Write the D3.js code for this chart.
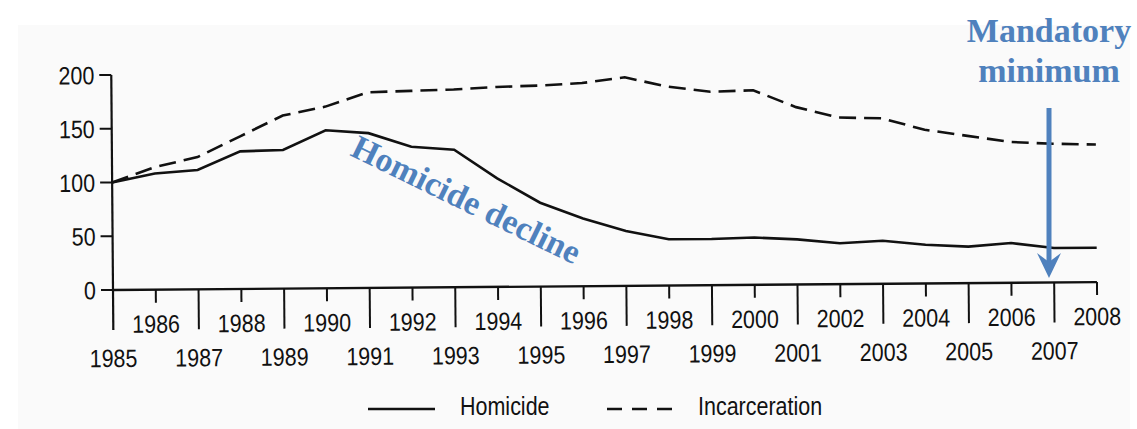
<!DOCTYPE html>
<html>
<head>
<meta charset="utf-8">
<script src="https://cdn.jsdelivr.net/npm/d3@7"></script>
<style>
  body { margin: 0; background: #fff; }
  text { font-family: "Liberation Sans Narrow", "Arial Narrow", "Liberation Sans", Arial, sans-serif; fill: #111; }
  .note { font-family: "Liberation Serif", "Times New Roman", serif; font-weight: bold; fill: #4f81bd; }
</style>
</head>
<body>
<div id="chart"></div>
<script>
// data (index, 1985 = 100)
var years = [1985,1986,1987,1988,1989,1990,1991,1992,1993,1994,1995,1996,
             1997,1998,1999,2000,2001,2002,2003,2004,2005,2006,2007,2008];
var homicide = [100,108,111,128,129,147,144,131,128,101,78,63,
                51,43,43,44,42,38,40,36,34,37,32,32];
var incarceration = [100,114,123,142,161,169,182,183,184,186,187,189,
                     194,185,180,181,165,155,154,143,137,131,129,128];
var yTicks = [0,50,100,150,200];
var seriesNames = ["Homicide","Incarceration"];

var width = 1137, height = 429;
var narrow = "scale(0.86,1)";   // no narrow font installed, squeeze Liberation Sans

var svg = d3.select("#chart")
  .append("svg")
    .attr("width", width)
    .attr("height", height);

// faint grey of the scanned page
svg.append("rect")
  .attr("x", 18).attr("y", 25)
  .attr("width", 1112).attr("height", 404)
  .style("fill", "#fafafa");

var x = d3.scaleLinear().domain([1985, 2008]).range([113, 1097]);
var y = d3.scaleLinear().domain([0, 200]).range([290, 75]);

// the scan is slightly rotated
var chart = svg.append("g")
  .attr("transform", "rotate(-0.46," + x(1985) + "," + y(0) + ")");

// Y axis ticks + labels
var yt = chart.append("g").selectAll("g")
  .data(yTicks)
  .enter()
  .append("g")
    .attr("transform", function(d) { return "translate(" + x(1985) + "," + y(d) + ")"; });
yt.append("line")
  .attr("x1", -12).attr("x2", 0)
  .style("stroke", "#111").style("stroke-width", 2);
yt.append("text")
  .attr("transform", "translate(-17,0) " + narrow)
  .attr("text-anchor", "end")
  .attr("dy", "0.36em")
  .style("font-size", "25px")
  .text(function(d) { return d; });

// axis line runs down past 0 (doubles as the 1985 tick)
chart.append("line")
  .attr("x1", x(1985)).attr("x2", x(1985))
  .attr("y1", y(200)).attr("y2", y(0) + 40)
  .style("stroke", "#111").style("stroke-width", 2.2);

// X axis: even years short ticks / upper row, odd years long ticks / lower row
chart.append("line")
  .attr("x1", x(1985)).attr("x2", x(2008))
  .attr("y1", y(0)).attr("y2", y(0))
  .style("stroke", "#111").style("stroke-width", 2.4);

var xt = chart.append("g").selectAll("g")
  .data(years)
  .enter()
  .append("g")
    .attr("transform", function(d) { return "translate(" + x(d) + "," + y(0) + ")"; });
xt.filter(function(d) { return d !== 1985; })
  .append("line")
    .attr("y2", function(d) { return d % 2 === 0 ? 13 : 40; })
    .style("stroke", "#111").style("stroke-width", 2);
xt.append("text")
  .attr("text-anchor", "middle")
  .attr("transform", function(d) { return "translate(0," + (d % 2 === 0 ? 43 : 77) + ") " + narrow; })
  .style("font-size", "25px")
  .text(function(d) { return d; });

// lines
var line = d3.line()
  .x(function(d) { return x(d[0]); })
  .y(function(d) { return y(d[1]); });

chart.append("path")
  .datum(years.map(function(yr, i) { return [yr, homicide[i]]; }))
  .attr("d", line)
  .style("fill", "none")
  .style("stroke", "#111")
  .style("stroke-width", 2.6);

chart.append("path")
  .datum(years.map(function(yr, i) { return [yr, incarceration[i]]; }))
  .attr("d", line)
  .style("fill", "none")
  .style("stroke", "#111")
  .style("stroke-width", 2.6)
  .style("stroke-dasharray", "17,8");

// legend
var legend = svg.append("g").attr("transform", "translate(0,409)");
legend.append("line")
  .attr("x1", 368).attr("x2", 435)
  .style("stroke", "#111").style("stroke-width", 2.4);
legend.append("text")
  .attr("transform", "translate(460,6) " + narrow)
  .style("font-size", "25px")
  .text(seriesNames[0]);
legend.append("line")
  .attr("x1", 607).attr("x2", 673)
  .style("stroke", "#111").style("stroke-width", 2.4)
  .style("stroke-dasharray", "15,10");
legend.append("text")
  .attr("transform", "translate(698,6) " + narrow)
  .style("font-size", "25px")
  .text(seriesNames[1]);

// annotations
svg.append("text")
  .attr("class", "note")
  .attr("transform", "translate(349,155) rotate(26)")
  .style("font-size", "34px")
  .text("Homicide decline");

svg.append("text")
  .attr("class", "note")
  .attr("x", 1049).attr("y", 42)
  .attr("text-anchor", "middle")
  .style("font-size", "34px")
  .text("Mandatory");
svg.append("text")
  .attr("class", "note")
  .attr("x", 1049).attr("y", 82)
  .attr("text-anchor", "middle")
  .style("font-size", "34px")
  .text("minimum");

var ax = 1049;
svg.append("line")
  .attr("x1", ax).attr("x2", ax)
  .attr("y1", 108).attr("y2", 262)
  .style("stroke", "#4f81bd").style("stroke-width", 5);
svg.append("path")
  .attr("d", "M" + (ax - 12) + ",253 L" + ax + ",262 L" + (ax + 12) + ",253 L" + ax + ",278 Z")
  .style("fill", "#4f81bd");
</script>
</body>
</html>
